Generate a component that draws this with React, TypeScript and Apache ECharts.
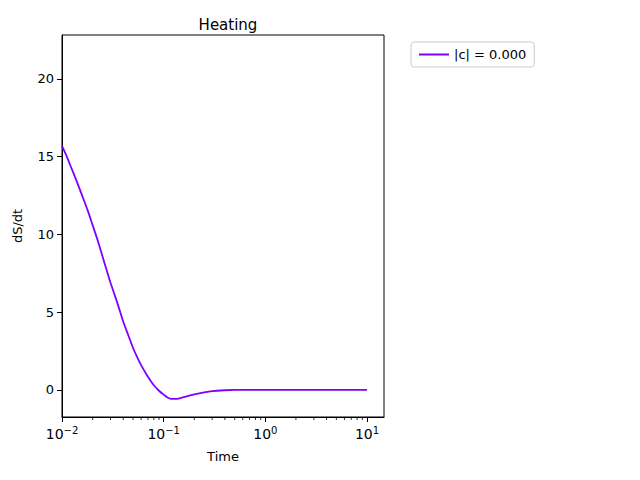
import React, { useEffect, useRef } from 'react';
import * as echarts from 'echarts';

const times = [0.01, 0.011, 0.0125, 0.014, 0.016, 0.018, 0.02, 0.0225, 0.025, 0.0275, 0.03, 0.035, 0.04, 0.045, 0.05, 0.055, 0.06, 0.07, 0.08, 0.09, 0.1, 0.11, 0.12, 0.135, 0.15, 0.175, 0.2, 0.25, 0.3, 0.4, 0.5, 0.7, 1, 2, 5, 10];
const dSdt = [15.7, 15.1, 14.2, 13.4, 12.4, 11.5, 10.6, 9.6, 8.6, 7.7, 6.9, 5.6, 4.4, 3.5, 2.7, 2.1, 1.6, 0.85, 0.3, -0.05, -0.3, -0.5, -0.58, -0.57, -0.5, -0.38, -0.28, -0.15, -0.07, -0.02, 0, 0, 0, 0, 0, 0];
const xMajor = [0.01, 0.1, 1, 10];
const supers: Record<string, string> = { '-2': '−2', '-1': '−1', '0': '0', '1': '1' };

const minorTicks: number[] = [];
[0.01, 0.1, 1, 10].forEach((d) => {
  for (let k = 2; k <= 9; k++) if (d * k < 14.7) minorTicks.push(d * k);
});

export default function App() {
  const ref = useRef<HTMLDivElement>(null);

  useEffect(() => {
    if (!ref.current) return;
    const chart = echarts.init(ref.current, null, { renderer: 'svg' });
    const font = 'DejaVu Sans';
    chart.setOption({
      animation: false,
      textStyle: { fontFamily: font },
      title: {
        text: 'Heating',
        left: 223,
        top: 12,
        textAlign: 'center',
        textStyle: { fontSize: 15, fontWeight: 'normal', color: '#000', fontFamily: font },
      },
      legend: {
        left: 411,
        top: 42,
        orient: 'vertical',
        data: ['|c| = 0.000'],
        itemWidth: 30,
        itemHeight: 2,
        padding: [6, 8],
        borderColor: '#ccc',
        borderWidth: 1,
        borderRadius: 3,
        icon: 'rect',
        textStyle: { fontSize: 13, color: '#000' },
      },
      grid: { left: 62, top: 35, width: 322, height: 382, show: true, borderColor: '#000', borderWidth: 1 },
      xAxis: {
        type: 'log',
        logBase: 10,
        min: 0.01,
        max: 14.7,
        name: 'Time',
        nameLocation: 'middle',
        nameGap: 33,
        nameTextStyle: { fontSize: 13, color: '#000' },
        axisLine: { onZero: false, lineStyle: { color: '#000' } },
        axisTick: { inside: false, length: 5, lineStyle: { color: '#000' } },
        splitLine: { show: false },
        axisLabel: {
          color: '#000',
          showMaxLabel: false,
          margin: 8,
          rich: {
            b: { fontSize: 14, color: '#000' },
            s: { fontSize: 10, color: '#000', verticalAlign: 'bottom', padding: [0, 0, 8, 0] },
          },
          formatter: (v: number) => {
            const e = Math.round(Math.log10(v));
            if (Math.abs(Math.log10(v) - e) > 1e-6 || !xMajor.includes(Math.pow(10, e))) return '';
            return '{b|10}{s|' + supers[String(e)] + '}';
          },
        },
      },
      yAxis: {
        type: 'value',
        min: -1.74,
        max: 22.83,
        splitNumber: 5,
        name: 'dS/dt',
        nameLocation: 'middle',
        nameGap: 38,
        nameTextStyle: { fontSize: 13, color: '#000' },
        axisLine: { show: true, onZero: false, lineStyle: { color: '#000' } },
        axisTick: { show: true, length: 5, lineStyle: { color: '#000' } },
        splitLine: { show: false },
        axisLabel: {
          fontSize: 13,
          color: '#000',
          showMinLabel: false,
          showMaxLabel: false,
          formatter: (v: number) => (Math.abs(v % 5) < 1e-6 ? String(v) : ''),
        },
      },
      series: [
        {
          name: '|c| = 0.000',
          type: 'line',
          smooth: 0.2,
          showSymbol: false,
          color: '#8000ff',
          lineStyle: { width: 1.8, color: '#8000ff' },
          data: times.map((t, i) => [t, dSdt[i]]),
        },
        {
          type: 'custom',
          silent: true,
          data: minorTicks.map((t) => [t, -1.74]),
          renderItem: (params: any, api: any) => {
            const p = api.coord([api.value(0), -1.74]);
            return {
              type: 'line',
              shape: { x1: p[0], y1: p[1], x2: p[0], y2: p[1] + 3 },
              style: { stroke: '#000', lineWidth: 0.8 },
            };
          },
        },
      ],
    });
    return () => chart.dispose();
  }, []);

  return <div ref={ref} style={{ width: 640, height: 480, margin: -8 }} />;
}
